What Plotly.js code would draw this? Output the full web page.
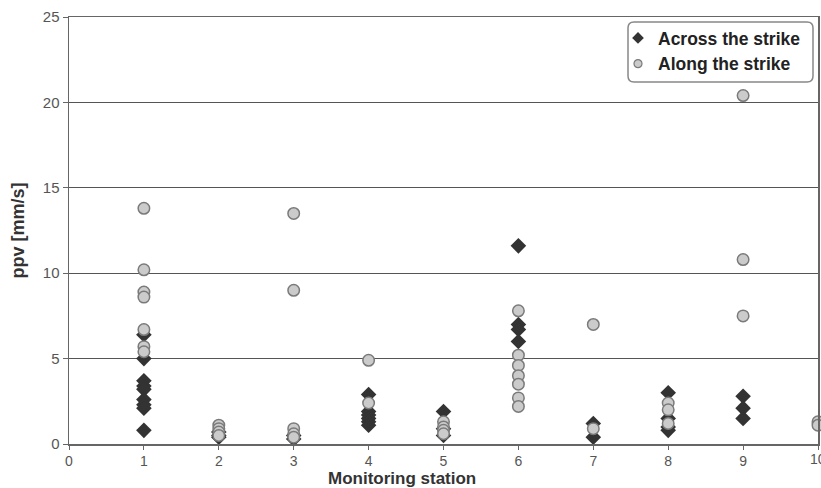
<!DOCTYPE html>
<html>
<head>
<meta charset="utf-8">
<script src="https://cdn.plot.ly/plotly-3.0.1.min.js"></script>
<style>html,body{margin:0;padding:0;background:#fff;}#chart{width:821px;height:488px;}</style>
</head>
<body>
<div id="chart"></div>
<script>
var acrossStation = [1,1,1,1,1,1,1,1,1, 2,2,2, 3,3, 4,4,4,4,4,4, 5,5,5, 6,6,6,6, 7,7, 8,8,8,8, 9,9,9];
var acrossPpv     = [6.4,5.0,3.7,3.4,3.2,2.6,2.3,2.1,0.8, 0.7,0.5,0.4, 0.5,0.3, 2.9,1.9,1.7,1.5,1.3,1.1, 1.9,0.9,0.5, 11.6,7.0,6.7,6.0, 1.2,0.4, 3.0,1.5,1.0,0.8, 2.8,2.1,1.5];
var alongStation  = [1,1,1,1,1,1,1, 2,2,2,2, 3,3,3,3,3, 4,4, 5,5,5,5, 6,6,6,6,6,6,6, 7,7, 8,8,8, 9,9,9, 10,10];
var alongPpv      = [13.8,10.2,8.9,8.6,6.7,5.7,5.4, 1.1,0.9,0.7,0.5, 13.5,9.0,0.9,0.6,0.4, 4.9,2.4, 1.3,1.0,0.8,0.6, 7.8,5.2,4.6,4.0,3.5,2.7,2.2, 7.0,0.9, 2.4,2.0,1.2, 20.4,10.8,7.5, 1.3,1.1];
var seriesNames = ["Across the strike", "Along the strike"];
var xTitle = "Monitoring station";
var yTitle = "ppv [mm/s]";
var xTicks = [0,1,2,3,4,5,6,7,8,9,10];
var yTicks = [0,5,10,15,20,25];

var diamondStyle = {symbol: 'diamond', size: 12, color: '#333333', line: {color: '#333333', width: 0}};
var circleStyle = {symbol: 'circle', size: 11.5, color: '#cbcbcb', line: {color: '#7a7a7a', width: 1.5}};

var traces = [
  {x: acrossStation, y: acrossPpv, name: seriesNames[0], type: 'scatter', mode: 'markers', cliponaxis: false,
   showlegend: false, marker: diamondStyle},
  {x: alongStation, y: alongPpv, name: seriesNames[1], type: 'scatter', mode: 'markers', cliponaxis: false,
   showlegend: false, marker: circleStyle},
  // legend-only entries with the smaller legend symbols
  {x: [null], y: [null], name: seriesNames[0], type: 'scatter', mode: 'markers', showlegend: true,
   marker: {symbol: 'diamond', size: 9, color: '#333333'}},
  {x: [null], y: [null], name: seriesNames[1], type: 'scatter', mode: 'markers', showlegend: true,
   marker: {symbol: 'circle', size: 8, color: '#cbcbcb', line: {color: '#7a7a7a', width: 1.2}}}
];

var W = 821, H = 488, ML = 69, MR = 3, MT = 17, MB = 44;
var plotW = W - ML - MR, plotH = H - MT - MB;
function toPaperX(x){ return (x - ML) / plotW; }
function toPaperY(y){ return (H - MB - y) / plotH; }

// rounded legend frame (pixel path -> paper coords)
var lx0 = 628, lx1 = 813, ly0 = 22, ly1 = 82, r = 6;
var path = 'M' + (lx0+r) + ',' + ly0 + ' L' + (lx1-r) + ',' + ly0 + ' Q' + lx1 + ',' + ly0 + ' ' + lx1 + ',' + (ly0+r) +
  ' L' + lx1 + ',' + (ly1-r) + ' Q' + lx1 + ',' + ly1 + ' ' + (lx1-r) + ',' + ly1 +
  ' L' + (lx0+r) + ',' + ly1 + ' Q' + lx0 + ',' + ly1 + ' ' + lx0 + ',' + (ly1-r) +
  ' L' + lx0 + ',' + (ly0+r) + ' Q' + lx0 + ',' + ly0 + ' ' + (lx0+r) + ',' + ly0 + ' Z';
var ppath = path.replace(/(-?\d+(?:\.\d+)?),(-?\d+(?:\.\d+)?)/g, function(m, a, b){
  return toPaperX(parseFloat(a)).toFixed(5) + ',' + toPaperY(parseFloat(b)).toFixed(5);
});

var layout = {
  width: W, height: H,
  margin: {l: ML, r: MR, t: MT, b: MB},
  paper_bgcolor: '#ffffff', plot_bgcolor: '#ffffff',
  font: {family: 'Liberation Sans, Arial, sans-serif', color: '#444444', size: 13},
  showlegend: true,
  legend: {x: toPaperX(618), y: toPaperY(20), xanchor: 'left', yanchor: 'top', bgcolor: 'rgba(255,255,255,0)',
           borderwidth: 0, font: {size: 17.5, color: '#222222', family: 'Liberation Sans, Arial, sans-serif', weight: 'bold'},
           tracegroupgap: 0, itemwidth: 30},
  xaxis: {range: [0, 10], tickvals: xTicks, ticktext: xTicks.map(String), showgrid: false, zeroline: false,
          showline: true, linecolor: '#666666', linewidth: 1.5, mirror: true, ticks: 'outside', ticklen: 4,
          tickcolor: '#666666', tickfont: {size: 14, color: '#555555'}, automargin: false},
  yaxis: {range: [0, 25], tickvals: yTicks, showgrid: true, gridcolor: '#555555', gridwidth: 1.2, zeroline: false,
          showline: true, linecolor: '#666666', linewidth: 1.5, mirror: true, ticks: 'outside', ticklen: 5,
          tickcolor: '#666666', tickfont: {size: 15, color: '#555555'}, automargin: false,
          title: {text: '<b>' + yTitle + '</b>', font: {size: 18, color: '#333333'}, standoff: 13}},
  shapes: [{type: 'path', xref: 'paper', yref: 'paper', path: ppath, line: {color: '#888888', width: 1.5},
            fillcolor: '#ffffff', layer: 'below'}],
  annotations: [
    {x: 10, y: 0, xref: 'x', yref: 'y', text: '10', showarrow: false, xanchor: 'center', yanchor: 'top',
     yshift: -5, font: {size: 14, color: '#555555'}},
    {x: toPaperX(402), y: toPaperY(490), xref: 'paper', yref: 'paper', text: '<b>' + xTitle + '</b>', showarrow: false,
     xanchor: 'center', yanchor: 'bottom', font: {size: 17, color: '#333333'}}
  ]
};

Plotly.newPlot('chart', traces, layout, {displayModeBar: false, staticPlot: true});
</script>
</body>
</html>
